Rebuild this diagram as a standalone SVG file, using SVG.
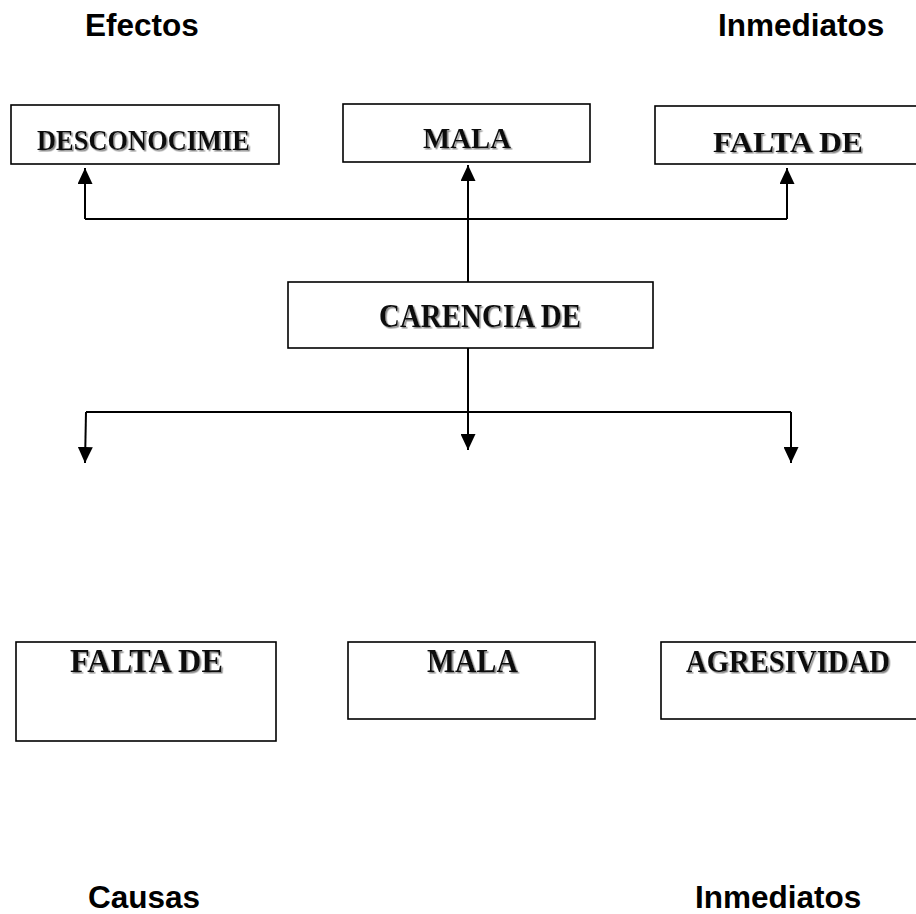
<svg xmlns="http://www.w3.org/2000/svg" width="916" height="914" viewBox="0 0 916 914">
<style>
.hdr{font-family:"Liberation Sans",Arial,sans-serif;font-weight:bold;font-size:31.5px;fill:#000}
.box{fill:#fff;stroke:#000;stroke-width:1.6}
.lbl{font-family:"Liberation Serif","Times New Roman",serif;font-weight:bold;fill:#111;filter:url(#sh)}
.con{fill:none;stroke:#000;stroke-width:2}
</style>
<defs>
<filter id="sh" x="-5%" y="-20%" width="110%" height="140%">
<feDropShadow dx="1.5" dy="1.5" stdDeviation="0.3" flood-color="#888" flood-opacity="1"/>
</filter>
<marker id="ah" viewBox="0 0 16 15" refX="16" refY="7.5" markerWidth="16" markerHeight="15" markerUnits="userSpaceOnUse" orient="auto">
<path d="M0,0 L16,7.5 L0,15 Z" fill="#000"/>
</marker>
</defs>
<rect width="916" height="914" fill="#fff"/>
<g id="headers">
<text class="hdr" x="85" y="36">Efectos</text>
<text class="hdr" x="718" y="36">Inmediatos</text>
<text class="hdr" x="88" y="908">Causas</text>
<text class="hdr" x="695" y="908">Inmediatos</text>
</g>
<g id="connectors">
<path class="con" d="M85,219 L85,168" marker-end="url(#ah)"/>
<path class="con" d="M85,219 L787,219"/>
<path class="con" d="M787,219 L787,168" marker-end="url(#ah)"/>
<path class="con" d="M468,282 L468,165" marker-end="url(#ah)"/>
<path class="con" d="M468,348 L468,450" marker-end="url(#ah)"/>
<path class="con" d="M86,412 L791,412"/>
<path class="con" d="M86,412 L85,463" marker-end="url(#ah)"/>
<path class="con" d="M791,412 L791,463" marker-end="url(#ah)"/>
</g>
<g id="n-desconocimiento">
<rect class="box" x="11" y="105" width="268" height="59"/>
<text class="lbl" x="37" y="150" font-size="30" textLength="213" lengthAdjust="spacingAndGlyphs">DESCONOCIMIE</text>
</g>
<g id="n-mala-top">
<rect class="box" x="343" y="104" width="247" height="58"/>
<text class="lbl" x="423" y="148" font-size="30" textLength="88" lengthAdjust="spacingAndGlyphs">MALA</text>
</g>
<g id="n-falta-top">
<rect class="box" x="655" y="106" width="275" height="58"/>
<text class="lbl" x="713" y="152" font-size="30" textLength="150" lengthAdjust="spacingAndGlyphs">FALTA DE</text>
</g>
<g id="n-carencia">
<rect class="box" x="288" y="282" width="365" height="66" stroke-width="2"/>
<text class="lbl" x="379" y="327" font-size="33" textLength="202" lengthAdjust="spacingAndGlyphs">CARENCIA DE</text>
</g>
<g id="n-falta-bottom">
<rect class="box" x="16" y="642" width="260" height="99" stroke-width="2"/>
<text class="lbl" x="70" y="672" font-size="33" textLength="153" lengthAdjust="spacingAndGlyphs">FALTA DE</text>
</g>
<g id="n-mala-bottom">
<rect class="box" x="348" y="642" width="247" height="77"/>
<text class="lbl" x="427" y="672" font-size="33" textLength="91" lengthAdjust="spacingAndGlyphs">MALA</text>
</g>
<g id="n-agresividad">
<rect class="box" x="661" y="642" width="270" height="77"/>
<text class="lbl" x="686" y="672" font-size="32" textLength="204" lengthAdjust="spacingAndGlyphs">AGRESIVIDAD</text>
</g>
</svg>
